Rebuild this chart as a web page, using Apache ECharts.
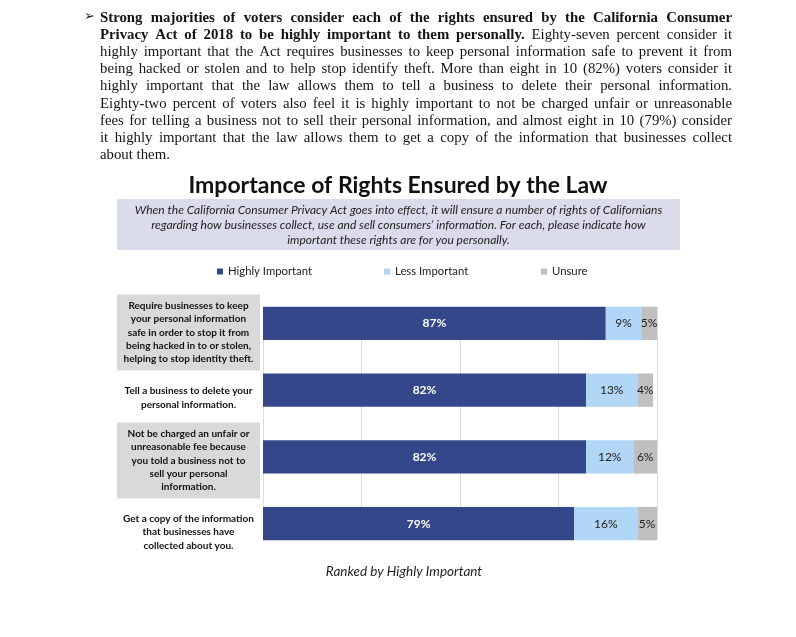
<!DOCTYPE html>
<html><head><meta charset="utf-8">
<script src="https://cdn.jsdelivr.net/npm/echarts@6/dist/echarts.min.js"></script>
<style>html,body{margin:0;padding:0;background:#fff}#c{width:796px;height:637px}</style>
</head><body><div id="c"></div><script>
// ---------- data ----------
const categories = [
  'Require businesses to keep\nyour personal information\nsafe in order to stop it from\nbeing hacked in to or stolen,\nhelping to stop identity theft.',
  'Tell a business to delete your\npersonal information.',
  'Not be charged an unfair or\nunreasonable fee because\nyou told a business not to\nsell your personal\ninformation.',
  'Get a copy of the information\nthat businesses have\ncollected about you.'
];
const seriesNames = ['Highly Important', 'Less Important', 'Unsure'];
const highly = [87, 82, 82, 79];
const less = [9, 13, 12, 16];
const unsure = [5, 4, 6, 5];

const chartTitle = 'Importance of Rights Ensured by the Law';
const questionLines = [
  'When the California Consumer Privacy Act goes into effect, it will ensure a number of rights of Californians',
  'regarding how businesses collect, use and sell consumers\u2019 information. For each, please indicate how',
  'important these rights are for you personally.'
];
const footnote = 'Ranked by Highly Important';
const paragraph = [
  [['Strong majorities of voters consider each of the rights ensured by the California Consumer', true]],
  [['Privacy Act of 2018 to be highly important to them personally.', true], ['Eighty-seven percent consider it', false]],
  [['highly important that the Act requires businesses to keep personal information safe to prevent it from', false]],
  [['being hacked or stolen and to help stop identify theft. More than eight in 10 (82%) voters consider it', false]],
  [['highly important that the law allows them to tell a business to delete their personal information.', false]],
  [['Eighty-two percent of voters also feel it is highly important to not be charged unfair or unreasonable', false]],
  [['fees for telling a business not to sell their personal information, and almost eight in 10 (79%) consider', false]],
  [['it highly important that the law allows them to get a copy of the information that businesses collect', false]],
  [['about them.', false]]
];

// ---------- style ----------
const colors = ['#34478b', '#b1d6f6', '#bfbfbf'];
const shaded = [true, false, true, false];
const labelShift = [18, 15, 7, 17];
const legendLeft = [217, 384, 541];

// ---------- paragraph layout (justified) ----------
const cv = document.createElement('canvas').getContext('2d');
const serif = '"Liberation Serif", "DejaVu Serif", serif';
function fontStr(bold, size) { return (bold ? 'bold ' : '') + size + 'px ' + serif; }
function measure(t, bold, size) { cv.font = fontStr(bold, size); return cv.measureText(t).width; }
const PX0 = 100, PX1 = 732, PY0 = 18, PDY = 17.15;
let pSize = 14.8;
paragraph.forEach((line, li) => {
  if (li === paragraph.length - 1) return;
  let w = 0;
  line.forEach((seg, si) => { w += measure(seg[0], seg[1], 10) + (si > 0 ? measure(' ', false, 10) : 0); });
  const s = 10 * (PX1 - PX0) / w * 0.995;
  if (s < pSize) pSize = s;
});
const graphics = [];
paragraph.forEach((line, li) => {
  const words = [];
  line.forEach(seg => seg[0].split(' ').forEach(wd => words.push([wd, seg[1]])));
  const widths = words.map(w => measure(w[0], w[1], pSize));
  const sum = widths.reduce((a, b) => a + b, 0);
  const last = li === paragraph.length - 1;
  const gap = last ? measure(' ', false, pSize) : (PX1 - PX0 - sum) / (words.length - 1);
  let x = PX0;
  const y = PY0 + li * PDY;
  words.forEach((w, i) => {
    graphics.push({ type: 'text', x: x, y: y, silent: true,
      style: { text: w[0], font: fontStr(w[1], pSize), fill: '#141414', verticalAlign: 'middle', align: 'left' } });
    x += widths[i] + gap;
  });
});
graphics.push({ type: 'text', x: 84, y: 17, silent: true,
  style: { text: '\u27A2', font: '13px "DejaVu Sans"', fill: '#222', verticalAlign: 'middle' } });

// question box
graphics.push({ type: 'rect', shape: { x: 117, y: 199, width: 563, height: 51 }, silent: true,
  style: { fill: '#dadbeb' } });
questionLines.forEach((t, i) => {
  graphics.push({ type: 'text', x: 398.5, y: 210.5 + i * 14.8, silent: true,
    style: { text: t, font: 'italic 12px Lato', fill: '#1e1e1e', align: 'center', verticalAlign: 'middle' } });
});
graphics.push({ type: 'text', x: 404, y: 572, silent: true,
  style: { text: footnote, font: 'italic 13.5px Lato', fill: '#1e1e1e', align: 'center', verticalAlign: 'middle' } });

// ---------- axis label rich ----------
const LH = 13.4;
const rich = {
  g: { width: 143, align: 'center', lineHeight: LH, height: LH + 1.2, fontSize: 10, fontWeight: 'bold', fontFamily: 'Lato', color: '#111', backgroundColor: '#d9d9d9' },
  w: { width: 143, align: 'center', lineHeight: LH, height: LH, fontSize: 10, fontWeight: 'bold', fontFamily: 'Lato', color: '#111' },
  gp: { width: 143, lineHeight: 4, height: 5, fontSize: 1, backgroundColor: '#d9d9d9' }
};
labelShift.forEach((h, i) => { rich['sp' + i] = { lineHeight: h, height: h, fontSize: 1 }; });

const chart = echarts.init(document.getElementById('c'));
const seriesData = [highly, less, unsure];
chart.setOption({
  animation: false,
  backgroundColor: '#fff',
  title: { text: chartTitle, left: 'center', top: 174, padding: 0,
    textStyle: { fontFamily: 'Lato', fontWeight: 'bold', fontSize: 23, color: '#111' } },
  legend: seriesNames.map((n, i) => ({
    data: [n], left: legendLeft[i], top: 266, padding: 0, icon: 'rect', itemWidth: 6, itemHeight: 6,
    selectedMode: false, textStyle: { fontFamily: 'Lato', fontSize: 11.3, color: '#222' }
  })),
  grid: [
    { left: 263, right: 139, top: 290, bottom: 80 },
    { left: 263, right: 139, top: 307, bottom: 97 }
  ],
  xAxis: [
    { type: 'value', gridIndex: 0, min: 0, max: 100, interval: 25,
      axisLabel: { show: false }, axisLine: { show: false }, axisTick: { show: false }, splitLine: { show: false } },
    { type: 'value', gridIndex: 1, min: 0, max: 100, interval: 25,
      axisLabel: { show: false }, axisLine: { show: false }, axisTick: { show: false },
      splitLine: { lineStyle: { color: '#dcdcdc', width: 1 } } }
  ],
  yAxis: [
    { type: 'category', gridIndex: 0, data: categories, inverse: true,
      axisLine: { show: false }, axisTick: { show: false },
      axisLabel: { interval: 0, margin: 3, rich: rich,
        formatter: (v, i) => {
          const st = shaded[i] ? 'g' : 'w';
          let out = '{sp' + i + '| }\n';
          if (shaded[i]) out += '{gp| }\n';
          out += v.split('\n').map(l => '{' + st + '|' + l + '}').join('\n');
          if (shaded[i]) out += '\n{gp| }';
          return out;
        } } },
    { type: 'value', gridIndex: 1, show: false, min: 0, max: 1 }
  ],
  series: seriesNames.map((n, i) => ({
    name: n, type: 'bar', stack: 'total', barWidth: '50%', clip: true,
    xAxisIndex: 0, yAxisIndex: 0,
    data: seriesData[i],
    itemStyle: { color: colors[i] },
    label: { show: true, position: 'inside', formatter: '{c}%',
      fontFamily: 'Lato', fontSize: 12, fontWeight: i === 0 ? 'bold' : 'normal',
      color: i === 0 ? '#fff' : '#222' }
  })),
  graphic: graphics
});
</script></body></html>
